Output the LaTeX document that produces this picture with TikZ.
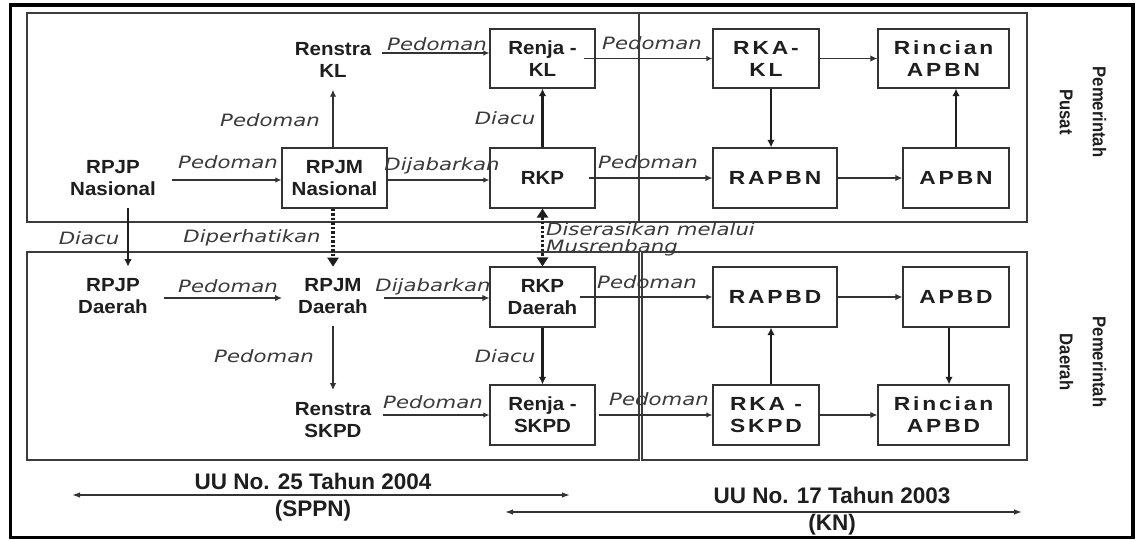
\documentclass[tikz,border=0pt]{standalone}
\usepackage{fontspec}
\setmainfont{Liberation Sans}[FakeStretch=1.08]
\newfontfamily\lblfont{DejaVu Sans}[ItalicFont={DejaVu Sans Oblique},FakeStretch=1.25]
\newfontfamily\kenfont{Liberation Sans}[FakeStretch=1.2,LetterSpace=15]
\newfontfamily\sidefont{Liberation Sans}[FakeStretch=0.9]
\newfontfamily\uufont{Liberation Sans}
\usetikzlibrary{arrows.meta}
\definecolor{ink}{HTML}{1E1E1E}
\definecolor{lblc}{HTML}{3A3A3A}
\definecolor{edgec}{HTML}{333333}
\definecolor{panelc}{HTML}{3C3C3C}
\tikzset{
  bx/.style={draw=edgec, line width=1.2pt, align=center, inner sep=0pt, text=ink,
    font=\bfseries\fontsize{19}{22}\selectfont},
  kbx/.style={bx, font=\kenfont\bfseries\fontsize{19}{22}\selectfont},
  txt/.style={align=center, inner xsep=16pt, inner ysep=12pt, text=ink,
    font=\bfseries\fontsize{19}{22}\selectfont},
  lbl/.style={font=\lblfont\itshape\fontsize{17}{17}\selectfont, text=lblc, inner sep=0pt},
  ar/.style={draw=edgec, line width=1.4pt, -{Latex[length=6pt,width=5.5pt]}},
  arm/.style={draw=edgec, line width=1.9pt, -{Latex[length=7pt,width=6.5pt]}},
  ark/.style={draw=ink, line width=2.7pt, -{Latex[length=7.5pt,width=7.5pt]}},
  dotar/.style={draw=ink, line width=3.5pt, dash pattern=on 2.5pt off 2pt},
  panel/.style={draw=panelc, line width=1.4pt},
  side/.style={rotate=-90, align=center, text=ink, inner sep=0pt,
    font=\sidefont\bfseries\fontsize{18.5}{33}\selectfont},
  uu/.style={align=center, text=ink, inner sep=0pt,
    font=\uufont\bfseries\fontsize{22.5}{27}\selectfont}
}
\begin{document}
\begin{tikzpicture}[x=1pt,y=-1pt]
\useasboundingbox (0,0) rectangle (1137,540);
\fill[white] (0,0) rectangle (1137,540);
% outer frame and panels
\draw[line width=3.5pt, draw=black] (10.5,5) rectangle (1133,537.5);
\draw[panel] (27,13) rectangle (639,222);
\draw[panel] (639,13) rectangle (1027,222);
\draw[panel] (27,252) rectangle (639,460);
\draw[panel] (642,252) rectangle (1027,460);

% boxes (top)
\node[bx, minimum width=105pt, minimum height=60pt] (rpjmn) at (334.5,178) {RPJM\\Nasional};
\node[bx, minimum width=105pt, minimum height=59pt] (renjakl) at (542.5,58.5) {Renja -\\KL};
\node[bx, minimum width=105pt, minimum height=60pt] (rkp) at (542.5,178) {RKP};
\node[kbx, minimum width=106pt, minimum height=59pt] (rkakl) at (766,58.5) {RKA-\\KL};
\node[kbx, minimum width=131pt, minimum height=59pt] (rincianapbn) at (943.5,58.5) {Rincian\\APBN};
\node[kbx, minimum width=124pt, minimum height=60pt] (rapbn) at (775,178) {RAPBN};
\node[kbx, minimum width=106pt, minimum height=60pt] (apbn) at (956,178) {APBN};
% boxes (bottom)
\node[bx, minimum width=105pt, minimum height=60pt] (rkpd) at (542.5,297) {RKP\\Daerah};
\node[bx, minimum width=105pt, minimum height=60pt] (renjaskpd) at (542.5,415) {Renja -\\SKPD};
\node[kbx, minimum width=124pt, minimum height=60pt] (rapbd) at (775,297) {RAPBD};
\node[kbx, minimum width=106pt, minimum height=60pt] (apbd) at (956,297) {APBD};
\node[kbx, minimum width=106pt, minimum height=60pt] (rkaskpd) at (766,415) {RKA -\\SKPD};
\node[kbx, minimum width=131pt, minimum height=60pt] (rincianapbd) at (943.5,415) {Rincian\\APBD};

% plain text nodes
\node[txt] (rpjpn) at (113,178) {RPJP\\Nasional};
\node[txt] (renstrakl) at (333,60) {Renstra\\KL};
\node[txt] (rpjpd) at (113,296.5) {RPJP\\Daerah};
\node[txt] (rpjmd) at (333,296.5) {RPJM\\Daerah};
\node[txt] (renstraskpd) at (333,420) {Renstra\\SKPD};

% side labels
\node[side] (pusat) at (1083,112) {Pemerintah\\Pusat};
\node[side] (daerah) at (1083,362) {Pemerintah\\Daerah};

% connectors top
\draw[ar] ([yshift=-2pt]rpjpn.east) -- ([yshift=-2pt]rpjmn.west);
\draw[arm] (rpjmn.north -| renstrakl.south) -- (renstrakl.south);
\draw[ar] ([yshift=7pt,xshift=-5pt]renstrakl.east) -- ([yshift=5.5pt]renjakl.west);
\draw[ar] ([xshift=-12pt]renjakl.east) -- (rkakl.west);
\draw[ar] ([yshift=-2pt]rpjmn.east) -- ([yshift=-2pt]rkp.west);
\draw[ark] (rkp.north) -- (renjakl.south);
\draw[arm] ([xshift=-7pt]rkp.east) -- (rapbn.west);
\draw[ark] ([xshift=5pt]rkakl.south) -- ([xshift=-4pt]rapbn.north);
\draw[arm] (rapbn.east) -- (apbn.west);
\draw[ark] (apbn.north) -- ([xshift=12.5pt]rincianapbn.south);
\draw[arm] (rkakl.east) -- (rincianapbn.west);
% between levels
\draw[ark] ([xshift=15pt]rpjpn.south) -- ([xshift=15pt]rpjpd.north);
\draw[dotar, -{Triangle[length=9pt,width=11pt]}] (rpjmn.south -| rpjmd.north) -- (rpjmd.north);
\draw[dotar, {Triangle[length=9pt,width=11pt]}-{Triangle[length=9pt,width=11pt]}] (rkp.south) -- (rkpd.north);
% connectors bottom
\draw[arm] ([yshift=-1.5pt]rpjpd.east) -- ([yshift=-1.5pt]rpjmd.west);
\draw[arm] ([yshift=-1.5pt]rpjmd.east) -- ([yshift=-1pt]rkpd.west);
\draw[arm] (rpjmd.south) -- (renstraskpd.north);
\draw[ar] ([yshift=5pt,xshift=-4pt]renstraskpd.east) -- (renjaskpd.west);
\draw[ark] (rkpd.south) -- (renjaskpd.north);
\draw[ar] ([xshift=-16pt]rkpd.east) -- (rapbd.west);
\draw[ar] ([xshift=3pt]renjaskpd.east) -- (rkaskpd.west);
\draw[arm] (rapbd.east) -- (apbd.west);
\draw[ark] ([xshift=5pt]rkaskpd.north) -- ([xshift=-4pt]rapbd.south);
\draw[ark] ([xshift=-7pt]apbd.south) -- ([xshift=5.5pt]rincianapbd.north);
\draw[arm] (rkaskpd.east) -- (rincianapbd.west);

% labels
\node[lbl] (l1) at (228,162) {Pedoman};
\node[lbl] (l2) at (270,120) {Pedoman};
\node[lbl] (l3) at (437,44) {Pedoman};
\node[lbl] (l4) at (652,43) {Pedoman};
\node[lbl] (l5) at (442,166) {Dijabarkan};
\node[lbl] (l6) at (505,118) {Diacu};
\node[lbl] (l7) at (648,162) {Pedoman};
\node[lbl] (l8) at (89,238) {Diacu};
\node[lbl] (l9) at (252,238) {Diperhatikan};
\node[lbl, align=left, anchor=west] (l10) at (546,239) {Diserasikan melalui\\Musrenbang};
\node[lbl] (l11) at (228,286) {Pedoman};
\node[lbl] (l12) at (433,287) {Dijabarkan};
\node[lbl] (l13) at (264,356) {Pedoman};
\node[lbl] (l14) at (433,402) {Pedoman};
\node[lbl] (l15) at (505,356) {Diacu};
\node[lbl] (l16) at (647,282) {Pedoman};
\node[lbl] (l17) at (659,399) {Pedoman};

% law ranges
\coordinate (a25l) at (72,495);
\coordinate (a25r) at (570,495);
\coordinate (a17l) at (505,512);
\coordinate (a17r) at (1022,512);
\draw[edgec, line width=1.4pt, {Latex[length=8pt,width=5.5pt]}-{Latex[length=8pt,width=5.5pt]}] (a25l) -- (a25r);
\draw[edgec, line width=1.4pt, {Latex[length=8pt,width=5.5pt]}-{Latex[length=8pt,width=5.5pt]}] (a17l) -- (a17r);
\node[uu] (uu25) at (313,497) {UU No. 25 Tahun 2004\\(SPPN)};
\node[uu] (uu17) at (832,511) {UU No. 17 Tahun 2003\\(KN)};
\end{tikzpicture}
\end{document}
